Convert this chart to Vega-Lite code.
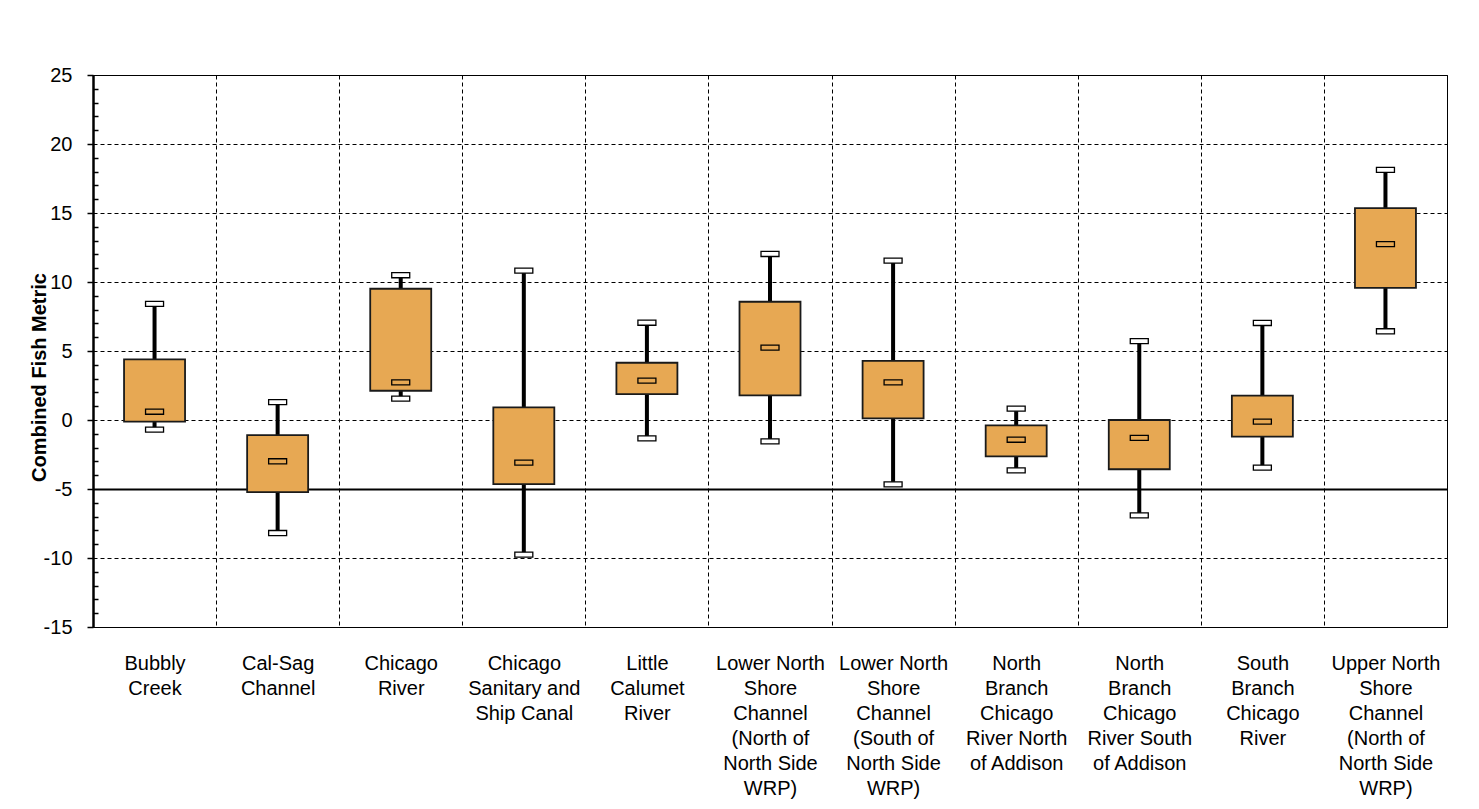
{
  "$schema": "https://vega.github.io/schema/vega-lite/v6.json",
  "width": 1354,
  "height": 552,
  "autosize": {"type": "none"},
  "padding": {"left": 93, "top": 75, "right": 32, "bottom": 182},
  "background": "white",
  "config": {
    "view": {"stroke": "#000000", "strokeWidth": 1},
    "font": "Liberation Sans"
  },
  "data": {
    "values": [
      {"site": "Bubbly|Creek", "lo": -0.7, "q1": -0.12, "med": 0.6, "q3": 4.4, "hi": 8.41},
      {"site": "Cal-Sag|Channel", "lo": -8.19, "q1": -5.22, "med": -2.99, "q3": -1.09, "hi": 1.3},
      {"site": "Chicago|River", "lo": 1.55, "q1": 2.12, "med": 2.73, "q3": 9.51, "hi": 10.49},
      {"site": "Chicago|Sanitary and|Ship Canal", "lo": -9.76, "q1": -4.64, "med": -3.09, "q3": 0.91, "hi": 10.82},
      {"site": "Little|Calumet|River", "lo": -1.33, "q1": 1.88, "med": 2.85, "q3": 4.15, "hi": 7.05},
      {"site": "Lower North|Shore|Channel|(North of|North Side|WRP)", "lo": -1.55, "q1": 1.79, "med": 5.24, "q3": 8.57, "hi": 12.03},
      {"site": "Lower North|Shore|Channel|(South of|North Side|WRP)", "lo": -4.66, "q1": 0.12, "med": 2.73, "q3": 4.28, "hi": 11.55},
      {"site": "North|Branch|Chicago|River North|of Addison", "lo": -3.65, "q1": -2.63, "med": -1.43, "q3": -0.39, "hi": 0.82},
      {"site": "North|Branch|Chicago|River South|of Addison", "lo": -6.91, "q1": -3.57, "med": -1.3, "q3": 0.0, "hi": 5.72},
      {"site": "South|Branch|Chicago|River", "lo": -3.45, "q1": -1.21, "med": -0.12, "q3": 1.76, "hi": 7.03},
      {"site": "Upper North|Shore|Channel|(North of|North Side|WRP)", "lo": 6.43, "q1": 9.57, "med": 12.75, "q3": 15.36, "hi": 18.12}
    ]
  },
  "encoding": {
    "x": {
      "field": "site",
      "type": "nominal",
      "sort": null,
      "scale": {"paddingInner": 0, "paddingOuter": 0},
      "axis": {
        "title": null,
        "labelAngle": 0,
        "labelExpr": "split(datum.label, '|')",
        "labelFont": "Liberation Sans",
        "labelFontSize": 20,
        "labelColor": "#000000",
        "labelLineHeight": 25,
        "labelPadding": 26,
        "labelBaseline": "top",
        "labelOverlap": false,
        "labelLimit": 0,
        "ticks": false,
        "domain": false,
        "grid": true,
        "tickBand": "extent",
        "gridColor": "#000000",
        "gridDash": [4, 3],
        "gridWidth": 1,
        "gridOpacity": 1
      }
    }
  },
  "layer": [
    {
      "mark": {"type": "rule", "color": "#000000", "strokeWidth": 4},
      "encoding": {
        "y": {
          "field": "lo",
          "type": "quantitative",
          "scale": {"domain": [-15, 25], "nice": false, "zero": false},
          "axis": {
            "title": "Combined Fish Metric",
            "titleFont": "Liberation Sans",
            "titleFontSize": 20,
            "titleFontWeight": "bold",
            "titleColor": "#000000",
            "titleAngle": -90,
            "titleAlign": "center",
            "titleBaseline": "middle",
            "titleX": -54,
            "titleY": 302,
            "tickCount": 100,
            "values": [-15,-14,-13,-12,-11,-10,-9,-8,-7,-6,-5,-4,-3,-2,-1,0,1,2,3,4,5,6,7,8,9,10,11,12,13,14,15,16,17,18,19,20,21,22,23,24,25],
            "labelExpr": "datum.value % 5 === 0 ? '' + datum.value : ''",
            "labelFont": "Liberation Sans",
            "labelFontSize": 20,
            "labelColor": "#000000",
            "labelPadding": 15,
            "labelOverlap": false,
            "labelBound": false,
            "labelFlush": false,
            "domainColor": "#000000",
            "domainWidth": 2.5,
            "tickColor": "#000000",
            "tickWidth": 1.5,
            "tickSize": {"condition": {"test": "datum.value % 5 === 0", "value": 6}, "value": -5},
            "grid": true,
            "gridColor": "#000000",
            "gridDash": {"condition": {"test": "datum.value === -5", "value": []}, "value": [4, 3]},
            "gridWidth": {"condition": {"test": "datum.value === -5", "value": 2}, "value": 1},
            "gridOpacity": {"condition": {"test": "datum.value % 5 === 0", "value": 1}, "value": 0}
          }
        },
        "y2": {"field": "hi"}
      }
    },
    {
      "mark": {"type": "bar", "size": 61, "fill": "#E7A853", "stroke": "#1a1a1a", "strokeWidth": 1.8},
      "encoding": {
        "y": {"field": "q1", "type": "quantitative"},
        "y2": {"field": "q3"}
      }
    },
    {
      "mark": {"type": "point", "shape": "M-1,-0.28H1V0.28H-1Z", "size": 324, "filled": true, "fill": "#ffffff", "stroke": "#000000", "strokeWidth": 1.3, "opacity": 1},
      "encoding": {"y": {"field": "hi", "type": "quantitative"}}
    },
    {
      "mark": {"type": "point", "shape": "M-1,-0.28H1V0.28H-1Z", "size": 324, "filled": true, "fill": "#ffffff", "stroke": "#000000", "strokeWidth": 1.3, "opacity": 1},
      "encoding": {"y": {"field": "lo", "type": "quantitative"}}
    },
    {
      "mark": {"type": "point", "shape": "M-1,-0.28H1V0.28H-1Z", "size": 324, "filled": true, "fill": "#E7A853", "stroke": "#000000", "strokeWidth": 1.3, "opacity": 1},
      "encoding": {"y": {"field": "med", "type": "quantitative"}}
    }
  ]
}
